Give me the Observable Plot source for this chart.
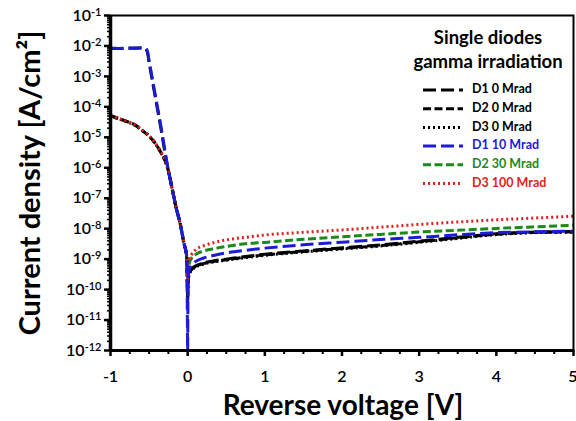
<!DOCTYPE html>
<html><head><meta charset="utf-8">
<script src="https://cdn.jsdelivr.net/npm/d3@7"></script>
<script src="https://cdn.jsdelivr.net/npm/@observablehq/plot@0.6"></script>
<style>html,body{margin:0;padding:0;background:#fff;} #chart{width:576px;height:421px;}</style>
</head><body><div id="chart"></div>
<script>
// ---- data ----
const voltage = [-1, -0.9, -0.8, -0.7, -0.6, -0.55, -0.52, -0.5, -0.45, -0.4, -0.35, -0.3, -0.25, -0.2, -0.15, -0.1, -0.05, -0.01, 0,
  0.005, 0.02, 0.05, 0.1, 0.2, 0.35, 0.5, 0.75, 1, 1.5, 2, 2.5, 3, 3.5, 4, 4.5, 5];

const d1_0 = [8.3e-3, 8.2e-3, 8.3e-3, 8.4e-3, 8.5e-3, 8.3e-3, 6.0e-3, 2.9e-3, 5.6e-4, 1.1e-4, 2.2e-5, 3.8e-6, 8e-7, 2e-7, 5e-8, 1.6e-8, 3.5e-9, 1.1e-9, 4e-11,
  2.1e-10, 3.3e-10, 4.7e-10, 5.9e-10, 7.4e-10, 8.9e-10, 1.0e-9, 1.22e-9, 1.45e-9, 1.86e-9, 2.35e-9, 2.95e-9, 3.9e-9, 5.2e-9, 6.8e-9, 7.7e-9, 8.0e-9];
const d2_0 = [5.2e-5, 4.2e-5, 3.4e-5, 2.7e-5, 1.8e-5, 1.4e-5, 1.25e-5, 1.1e-5, 8e-6, 5.4e-6, 3.3e-6, 1.9e-6, 8e-7, 2e-7, 5e-8, 1.6e-8, 3.5e-9, 1.1e-9, 5e-11,
  2.0e-10, 3.2e-10, 4.5e-10, 5.6e-10, 7.1e-10, 8.5e-10, 9.5e-10, 1.17e-9, 1.38e-9, 1.78e-9, 2.24e-9, 2.8e-9, 3.7e-9, 5.0e-9, 6.6e-9, 7.6e-9, 7.9e-9];
const d3_0 = [5.0e-5, 4.1e-5, 3.3e-5, 2.6e-5, 1.75e-5, 1.38e-5, 1.22e-5, 1.08e-5, 7.8e-6, 5.2e-6, 3.2e-6, 1.85e-6, 7.8e-7, 1.9e-7, 4.8e-8, 1.5e-8, 3.3e-9, 1.0e-9, 6e-11,
  1.9e-10, 3.0e-10, 4.3e-10, 5.4e-10, 6.8e-10, 8.2e-10, 9.2e-10, 1.12e-9, 1.33e-9, 1.72e-9, 2.15e-9, 2.7e-9, 3.55e-9, 4.8e-9, 6.4e-9, 7.4e-9, 7.7e-9];
const d1_10 = [8.5e-3, 8.3e-3, 8.4e-3, 8.6e-3, 8.7e-3, 8.5e-3, 6.5e-3, 3.3e-3, 6.6e-4, 1.3e-4, 2.6e-5, 4.5e-6, 8e-7, 2e-7, 5e-8, 1.6e-8, 3.5e-9, 1.1e-9, 1e-12,
  2.5e-10, 4.5e-10, 6.3e-10, 8.3e-10, 1.07e-9, 1.35e-9, 1.6e-9, 1.95e-9, 2.3e-9, 2.95e-9, 3.6e-9, 4.4e-9, 5.2e-9, 6.3e-9, 7.4e-9, 7.9e-9, 8.3e-9];
const d2_30 = [5.1e-5, 4.1e-5, 3.35e-5, 2.65e-5, 1.78e-5, 1.39e-5, 1.23e-5, 1.09e-5, 7.9e-6, 5.3e-6, 3.25e-6, 1.88e-6, 7.9e-7, 1.95e-7, 4.9e-8, 1.55e-8, 3.4e-9, 1.05e-9, 1e-10,
  3.2e-10, 7.1e-10, 1.07e-9, 1.41e-9, 1.82e-9, 2.24e-9, 2.6e-9, 3.2e-9, 3.55e-9, 4.5e-9, 5.4e-9, 6.5e-9, 7.8e-9, 8.9e-9, 1.02e-8, 1.15e-8, 1.29e-8];
const d3_100 = [5.3e-5, 4.3e-5, 3.45e-5, 2.75e-5, 1.85e-5, 1.42e-5, 1.27e-5, 1.12e-5, 8.2e-6, 5.5e-6, 3.4e-6, 1.95e-6, 8.2e-7, 2.1e-7, 5.2e-8, 1.65e-8, 3.6e-9, 1.15e-9, 1.5e-10,
  4.0e-10, 1.0e-9, 1.41e-9, 2.0e-9, 2.7e-9, 3.55e-9, 4.3e-9, 5.2e-9, 6.2e-9, 7.6e-9, 9.1e-9, 1.12e-8, 1.38e-8, 1.66e-8, 1.95e-8, 2.24e-8, 2.57e-8];

const seriesNames = ["D1 0 Mrad", "D2 0 Mrad", "D3 0 Mrad", "D1 10 Mrad", "D2 30 Mrad", "D3 100 Mrad"];
const seriesValues = [d1_0, d2_0, d3_0, d1_10, d2_30, d3_100];

const xTicks = [-1, 0, 1, 2, 3, 4, 5];
const yTicks = [1e-12, 1e-11, 1e-10, 1e-9, 1e-8, 1e-7, 1e-6, 1e-5, 1e-4, 1e-3, 1e-2, 1e-1];
const legendTitle = ["Single diodes", "gamma irradiation"];

// ---- styles (kept separate from data) ----
const styles = {
  "D1 0 Mrad":   {color: "#000000", dash: "13,5"},
  "D2 0 Mrad":   {color: "#000000", dash: "8,3.5"},
  "D3 0 Mrad":   {color: "#000000", dash: "2,3"},
  "D1 10 Mrad":  {color: "#1c1cd4", dash: "13,5"},
  "D2 30 Mrad":  {color: "#1b8a1b", dash: "8,3.5"},
  "D3 100 Mrad": {color: "#e01e1e", dash: "2,3"}
};
const drawOrder = ["D2 30 Mrad", "D1 0 Mrad", "D2 0 Mrad", "D3 0 Mrad", "D3 100 Mrad", "D1 10 Mrad"];

const rows = [];
seriesNames.forEach((name, i) => {
  seriesValues[i].forEach((j, k) => rows.push({series: name, v: voltage[k], j}));
});

const minorX = d3.range(-1, 5.001, 0.25).filter(v => Math.abs(v - Math.round(v)) > 1e-9);
const minorY = [];
yTicks.slice(0, -1).forEach(t => { for (let m = 2; m <= 9; m++) minorY.push(t * m); });

const font = "Lato, 'Open Sans', sans-serif";

const chart = Plot.plot({
  width: 576, height: 421,
  marginLeft: 110, marginRight: 3, marginTop: 15, marginBottom: 71,
  style: {fontFamily: font, background: "#fff", color: "#000"},
  x: {domain: [-1, 5], label: null},
  y: {type: "log", domain: [1e-12, 1e-1], label: null, clamp: true},
  marks: [
    Plot.axisX({ticks: minorX, tickSize: 4, tickFormat: () => "", label: null, strokeWidth: 2}),
    Plot.axisX({ticks: xTicks, tickSize: 6, tickPadding: 14, tickFormat: d => String(d), label: null,
      fontSize: 16, fontWeight: 600, strokeWidth: 2.5}),
    Plot.axisY({ticks: minorY, tickSize: 3, tickFormat: () => "", label: null, strokeWidth: 1.5}),
    Plot.axisY({ticks: yTicks, tickSize: 6, tickPadding: 3, label: null,
      tickFormat: d => "10^" + Math.round(Math.log10(d)), fontSize: 16, fontWeight: 600, strokeWidth: 2.5}),
    ...drawOrder.map(name => Plot.line(rows.filter(r => r.series === name), {
      x: "v", y: "j", stroke: styles[name].color, strokeWidth: 3,
      strokeDasharray: styles[name].dash, strokeLinecap: "butt", curve: "monotone-x"
    })),
    Plot.frame({stroke: "#000", strokeWidth: 2}),
    Plot.ruleX([-1], {stroke: "#000", strokeWidth: 3.5}),
    Plot.ruleY([1e-12], {stroke: "#000", strokeWidth: 3})
  ]
});

document.getElementById("chart").appendChild(chart);
const svg = d3.select(chart);

// superscripts for the y tick labels
svg.selectAll('g[aria-label="y-axis tick label"] text').each(function() {
  const t = d3.select(this);
  const s = t.text();
  if (!s.startsWith("10^")) return;
  const exp = s.slice(3);
  t.text(null);
  t.append("tspan").text("10");
  t.append("tspan").attr("dy", "-0.45em").attr("font-size", "11px").text(exp);
});
// keep the last x tick label ("5") inside the picture
const xLabels = svg.selectAll('g[aria-label="x-axis tick label"] text').nodes();
if (xLabels.length) d3.select(xLabels[xLabels.length - 1]).attr("text-anchor", "end").attr("dx", "4");

// axis titles
svg.append("text")
  .attr("transform", "translate(33,183) rotate(-90)")
  .attr("text-anchor", "middle").attr("dominant-baseline", "middle")
  .attr("font-family", font).attr("font-weight", "bold").attr("font-size", 29)
  .text("Current density [A/cm²]");
svg.append("text")
  .attr("x", 343).attr("y", 415)
  .attr("text-anchor", "middle")
  .attr("font-family", font).attr("font-weight", "bold").attr("font-size", 28)
  .text("Reverse voltage [V]");

// legend
const lg = svg.append("g").attr("font-family", font).attr("font-weight", "bold");
legendTitle.forEach((t, i) => {
  lg.append("text").attr("x", 488).attr("y", 39 + i * 24)
    .attr("text-anchor", "middle").attr("dominant-baseline", "middle")
    .attr("font-size", 18.5).attr("fill", "#000").text(t);
});
seriesNames.forEach((name, i) => {
  const y = 90 + i * 18.7;
  lg.append("line").attr("x1", 423).attr("x2", 463).attr("y1", y).attr("y2", y)
    .attr("stroke", styles[name].color).attr("stroke-width", 3)
    .attr("stroke-dasharray", styles[name].dash);
  lg.append("text").attr("x", 472).attr("y", y)
    .attr("text-anchor", "start")
    .attr("dominant-baseline", "middle").attr("font-size", 12.5)
    .attr("fill", styles[name].color).text(name);
});
</script>
</body></html>
